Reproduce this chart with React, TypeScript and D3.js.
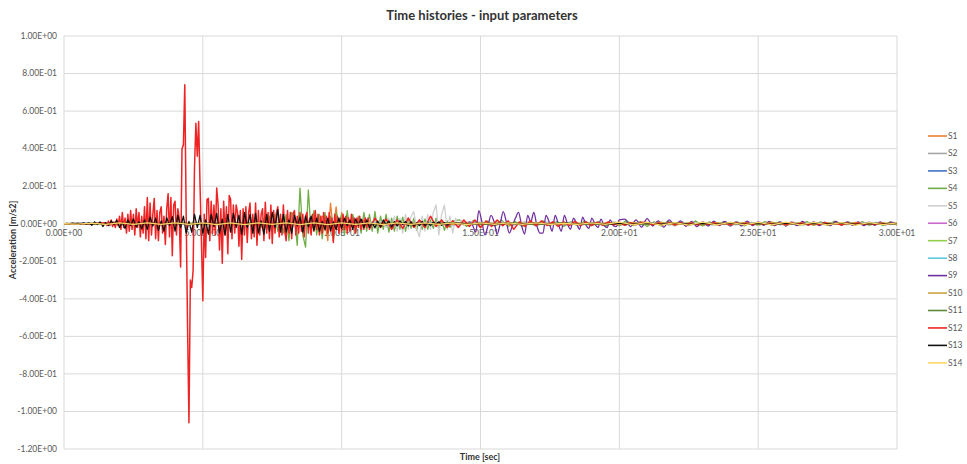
import { useEffect, useRef } from "react";
import * as d3 from "d3";

// tick values
const X_TICKS = [0, 5, 10, 15, 20, 25, 30];
const Y_TICKS = [1, 0.8, 0.6, 0.4, 0.2, 0, -0.2, -0.4, -0.6, -0.8, -1, -1.2];

// ---- time histories (values in m/s2) ----
// each segment: start time t0, step dt, values

const S12_A = [
  0.005, -0.01, 0.015, -0.01, 0.02, -0.015, 0.01, -0.02, 0.025, -0.01,
  0.04, -0.03, 0.06, -0.02, 0.03, -0.05, 0.05, -0.04, 0.07, -0.03,
  0.05, -0.06, 0.08, -0.02, 0.06, -0.07, 0.04, -0.05, 0.09, -0.08,
  0.14, -0.09, 0.11, -0.06, 0.05, 0.135, -0.08, 0.07, -0.09, 0.06,
  0.09, -0.05, 0.04, -0.11, 0.08, 0.16, -0.07, 0.14, -0.17, 0.1,
  0.12, -0.06, 0.08, 0.03, -0.23, 0.4, 0.42, 0.74, 0.05, -0.55,
  -1.06, -0.3, -0.34, -0.25, 0.3, 0.535, 0.36, 0.545, 0.2, -0.1,
  -0.41, 0.05, -0.18, 0.13, 0.135, -0.09, 0.12, -0.05, 0.1, -0.06,
  0.19, 0.1, -0.14, 0.08, -0.21, 0.12, -0.06, 0.09, -0.16, 0.15,
  0.13, -0.08, 0.1, -0.05, 0.1, 0.06, -0.12, 0.07, -0.19, 0.08,
  -0.06, 0.09, -0.1, 0.06, 0.11, -0.08, 0.05, -0.07, 0.11, -0.115,
  0.07, -0.06, 0.05, 0.08, -0.09, 0.115, -0.05, 0.06, -0.08, 0.1,
  -0.105, 0.07, -0.05, 0.06, 0.09, -0.07, 0.05, -0.06, 0.1, -0.04,
  -0.09, 0.07, -0.05, 0.06, -0.08, 0.05, 0.07, -0.06, 0.04, -0.05,
  0.06, -0.04, 0.05, -0.07, 0.04, 0.06, -0.05, 0.03, -0.06, 0.05,
  -0.04, 0.07, -0.03, 0.05, -0.06, 0.04, -0.05, 0.06, -0.03, 0.04,
  -0.05, 0.06, -0.04, 0.03, -0.1, 0.05, -0.03, 0.04, -0.05, 0.03,
  -0.04, 0.05, -0.03, 0.04, -0.05, 0.03, -0.04, 0.05, -0.02, 0.03,
  -0.05, 0.03, -0.02, 0.04, -0.03, 0.02, -0.03, 0.03, -0.02, 0.03,
];
const S12_B = [
  -0.03, 0.03, -0.02, 0.025, -0.03, 0.02, -0.025, 0.03, -0.02, 0.02,
  -0.02, 0.04, -0.015, 0.02, -0.02, 0.015, -0.02, 0.02, -0.015, 0.02,
  -0.02, 0.015, -0.015, 0.02, -0.01, 0.015, -0.03, 0.01, -0.015, 0.015,
  -0.01, 0.015, -0.01, 0.01, -0.015, 0.01, -0.01, 0.012, -0.01, 0.01,
  -0.01, 0.008, -0.008, 0.01, -0.006, 0.008, -0.008, 0.006, -0.006, 0.008,
  0.005, -0.006, 0.004, -0.005, 0.006, -0.004, 0.005, -0.005, 0.004, -0.006,
  0.004, -0.004, 0.005, -0.006, 0.003, -0.004, 0.005, -0.004, 0.004, -0.005,
  0.006, -0.004, 0.003, -0.005, 0.004, -0.004, 0.005, -0.003, 0.004, -0.005,
  0.003, -0.004, 0.005, -0.004, 0.003, -0.005, 0.004, -0.003, 0.004, -0.004,
  0.003, -0.004, 0.003, -0.003, 0.002,
];

const S13_A = [
  0, 0.002, -0.002, 0.003, -0.001, 0.002, -0.004, 0.005, -0.002, 0.006,
  -0.008, 0.01, -0.004, 0.01, -0.015, 0.006, -0.01, 0.015, -0.005, 0.018,
  -0.02, 0.008, -0.025, 0.02, -0.01, 0.025, -0.018, 0.01, -0.028, 0.02,
  -0.03, 0.035, -0.012, 0.03, -0.035, 0.015, -0.04, 0.032, -0.01, 0.038,
  -0.04, 0.045, -0.02, 0.04, -0.05, 0.012, -0.045, 0.05, -0.02, 0.045,
  -0.05, 0.02, -0.055, 0.05, -0.015, 0.055, -0.05, 0.025, -0.06, 0.05,
  -0.045, 0.055, -0.02, 0.045, -0.055, 0.06, -0.02, 0.05, -0.05, 0.055,
  -0.05, 0.015, -0.055, 0.05, -0.04, 0.06, -0.02, 0.075, -0.045, 0.05,
  -0.045, 0.02, -0.05, 0.045, -0.01, 0.035, -0.045, 0.04, -0.015, 0.04,
  -0.035, 0.03, -0.04, 0.012, -0.03, 0.03, -0.035, 0.01, -0.03, 0.03,
  -0.025, 0.03, -0.01, 0.02, -0.03, 0.025, -0.008, 0.025, -0.02, 0.02,
  -0.02, 0.008, -0.022, 0.015, -0.018, 0.02, -0.006, 0.015, -0.018, 0.012,
  -0.012, 0.015, -0.004, 0.012, -0.012, 0.01, -0.012, 0.004, -0.01, 0.012,
  -0.01, 0.008, -0.01, 0.008, -0.003, 0.01, -0.008, 0.006, -0.008, 0.006,
];
const S13_B = [
  0.006, -0.005, 0.004, -0.006, 0.005, -0.004, 0.005, -0.005, 0.004, -0.004,
  0.005, -0.004, 0.003, -0.004, 0.004, -0.003, 0.004, -0.004, 0.003, -0.003,
  0.004, -0.003, 0.003, -0.004, 0.003, -0.003, 0.003, -0.002, 0.003, -0.003,
  0.002, -0.002, 0.002,
];

const S4_PRE = [0, 0.002, -0.002, 0.003, -0.004, 0.005, -0.006];
const S4_A = [
  0.01, -0.02, 0.03, -0.03, 0.04, -0.03, 0.05, -0.04, 0.03, -0.05,
  0.05, -0.09, 0.06, 0.04, -0.115, 0.19, -0.06, -0.125, 0.18, -0.05,
  0.07, -0.06, 0.05, -0.08, 0.06, -0.05, 0.04, -0.09, 0.06, -0.04,
  0.05, -0.06, 0.07, -0.04, 0.05, -0.05, 0.04, -0.05, 0.06, -0.04,
  0.05, -0.04, 0.065, -0.05, 0.04, -0.03, 0.05, -0.045, 0.03, -0.04,
  0.04, -0.03, 0.035, -0.04, 0.03, -0.025, 0.03, -0.035, 0.02, -0.03,
  0.025, -0.03, 0.02, -0.025, 0.03, -0.02, 0.02, -0.035, 0.015, -0.02,
  0.015,
];
const S4_B = [
  0.02, -0.015, 0.018, -0.02, 0.015, -0.012, 0.02, -0.015,
  0.012, -0.015, 0.01, -0.012, 0.015, -0.01, 0.012, -0.014,
  0.01, -0.012, 0.015, -0.01, 0.012, -0.015, 0.01, -0.012,
  0.018, -0.01, 0.012, -0.015, 0.01, -0.012, 0.014, -0.01,
  0.012, -0.01, 0.015, -0.012, 0.01, -0.008, 0.012, -0.01,
  0.01, -0.012, 0.008, -0.01, 0.012, -0.008, 0.01, -0.01,
  0.008, -0.01, 0.012, -0.008, 0.01, -0.01, 0.014, -0.008,
  0.01, -0.008, 0.012, -0.01, 0.008, -0.01, 0.01, -0.006,
];

const S1_PRE = [0, 0.002, -0.002, 0.003, -0.003];
const S1_A = [
  0.01, -0.02, 0.03, 0.02, -0.05, 0.04, 0.03, -0.09, 0.11, -0.04,
  0.09, -0.05, 0.06, -0.04, 0.05, -0.03, 0.04, -0.03, 0.03, -0.02,
  0.02, -0.02, 0.015, -0.01, 0.01, -0.01, 0.005, 0,
];
const S1_B = [
  0.006, -0.008, 0.005, -0.006, 0.008, -0.005, 0.006, -0.007, 0.005, -0.006,
  0.007, -0.005, 0.006, -0.006, 0.005, -0.007, 0.006, -0.005, 0.007, -0.006,
  0.005, -0.006, 0.006, -0.005, 0.007, -0.006, 0.005, -0.005, 0.006, -0.006,
  0.005, -0.005, 0.006, -0.004, 0.005, -0.005, 0.004,
];

const S5_PRE = [0, 0.002, -0.002, 0.003, -0.003, 0.004];
const S5_A = [
  0.01, -0.02, 0.03, -0.03, 0.04, -0.04, 0.03, -0.05, 0.05, -0.03,
  0.04, 0.065, -0.03, -0.07, 0.04, -0.04, 0.05, -0.03, 0.06, 0.1,
  -0.06, 0.05, 0.1, -0.03, 0.04, -0.05, 0.03, -0.02, 0.02, -0.01,
  0.01,
];
const S5_B = [
  0.01, -0.012, 0.008, -0.01, 0.012, -0.008, 0.01, -0.01, 0.008, -0.012,
  0.01, -0.008, 0.012, -0.01, 0.008, -0.008, 0.01, -0.01, 0.012, -0.008,
  0.008, -0.01, 0.01, -0.008, 0.012, -0.01, 0.008, -0.008, 0.01, -0.01,
  0.008, -0.008, 0.01, -0.006, 0.008, -0.008, 0.006, -0.006,
];

const S9_PRE = [0, 0.002, -0.002, 0.003, -0.003, 0.004, -0.004, 0.005];
const S9_A = [
  0, 0.01, -0.01, -0.045, 0.07, 0.01, -0.06, -0.01, 0.045, 0.01,
  -0.055, 0, 0.065, 0.01, -0.05, -0.01, 0.03, 0.06, -0.01, -0.055,
  0.045, 0.01, 0.06, -0.01, -0.05, -0.05, 0.045, 0.01, -0.04, 0.045,
  0, -0.04, 0.045, 0, -0.03, 0.03, 0, -0.03, 0.035, -0.005,
  -0.025, 0.03, 0, -0.02, 0.025, -0.01, -0.02, 0.02, -0.01, -0.015,
  0.02,
];
const S9_B = [
  0.025, -0.015, 0.02, -0.018, 0.027, -0.012, 0.015, -0.018, 0.02, -0.01,
  0.015, -0.014, 0.012, -0.015, 0.01, -0.012, 0.014, -0.01, 0.012, -0.012,
  0.01, -0.012, 0.014, -0.01, 0.01, -0.008, 0.012, -0.01, 0.01, -0.012,
  0.008, -0.01, 0.012, -0.008, 0.01, -0.01, 0.008, -0.01, 0.012, -0.008,
  0.01, -0.008, 0.01, -0.01, 0.008, -0.008, 0.01, -0.006, 0.008, -0.006,
];

const S10_V = [
  0, 0.002, -0.002, 0.003, -0.003, 0.003, -0.004, 0.004, -0.003, 0.004,
  -0.004, 0.004, -0.005, 0.004, -0.004, 0.005, -0.004, 0.005, -0.005, 0.004,
  -0.004, 0.005, -0.005, 0.004, -0.005, 0.005, -0.004, 0.004, -0.005, 0.004,
  -0.004, 0.004, -0.005, 0.004, -0.004, 0.003, -0.004, 0.004, -0.003, 0.004,
  -0.006, 0.007, -0.006, 0.008, -0.007, 0.006, -0.008, 0.007, -0.006, 0.007,
  -0.006, 0.008, -0.007, 0.006, -0.007, 0.006, -0.006, 0.007, -0.005, 0.006,
  -0.005,
];
const S14_V = [
  0, -0.002, 0.003, -0.003, 0.004, -0.003, 0.004, -0.004, 0.005, -0.004,
  0.005, -0.005, 0.004, -0.005, 0.005, -0.004, 0.005, -0.005, 0.004, -0.005,
  0.005, -0.004, 0.004, -0.005, 0.005, -0.004, 0.005, -0.004, 0.004, -0.005,
  0.004, -0.004, 0.005, -0.004, 0.004, -0.004, 0.003, -0.004, 0.004, -0.003,
  0.008, -0.006, 0.007, -0.008, 0.006, -0.007, 0.008, -0.006, 0.007, -0.006,
  0.007, -0.006, 0.008, -0.006, 0.007, -0.006, 0.006, -0.007, 0.006, -0.005,
  0.005,
];
const SMALL_A = [
  0, 0.003, -0.004, 0.004, -0.005, 0.005, -0.004, 0.005, -0.005, 0.004,
  -0.005, 0.004, -0.004, 0.005, -0.004, 0.004, -0.003, 0.004, -0.004, 0.003,
  -0.004, 0.004, -0.003, 0.003, -0.004, 0.003, -0.003, 0.003, -0.002, 0.003,
  -0.002,
];
const SMALL_B = [
  0, -0.003, 0.004, -0.004, 0.005, -0.004, 0.005, -0.005, 0.004, -0.005,
  0.004, -0.004, 0.005, -0.004, 0.004, -0.003, 0.004, -0.004, 0.003, -0.004,
  0.004, -0.003, 0.003, -0.004, 0.003, -0.003, 0.003, -0.002, 0.003, -0.002,
  0.002,
];

const SERIES = [
  { name: "S1", color: "#ED7D31", segs: [[0, 2, S1_PRE], [8.8, 0.1, S1_A], [12, 0.5, S1_B]] },
  { name: "S2", color: "#A5A5A5", segs: [[0, 1, SMALL_A]] },
  { name: "S3", color: "#4472C4", segs: [[0, 1, SMALL_B]] },
  { name: "S4", color: "#70AD47", segs: [[0, 1, S4_PRE], [7, 0.1, S4_A], [14.25, 0.25, S4_B]] },
  { name: "S5", color: "#CFCFCF", segs: [[0, 2, S5_PRE], [11.5, 0.1, S5_A], [15, 0.4, S5_B]] },
  { name: "S6", color: "#CC66CC", segs: [[0, 1, SMALL_A]] },
  { name: "S7", color: "#92D050", segs: [[0, 1, SMALL_B]] },
  { name: "S8", color: "#5BC8E0", segs: [[0, 1, SMALL_A]] },
  { name: "S9", color: "#7030A0", segs: [[0, 2, S9_PRE], [14.5, 0.11, S9_A], [20.2, 0.2, S9_B]] },
  { name: "S10", color: "#C9A23A", segs: [[0, 0.5, S10_V]] },
  { name: "S11", color: "#5A8A3A", segs: [[0, 1, SMALL_B]] },
  { name: "S12", color: "#EE2424", segs: [[0, 0.5, [0, 0, 0]], [1.5, 0.05, S12_A], [11, 0.2, S12_B]] },
  { name: "S13", color: "#111111", segs: [[0, 0.1, S13_A], [14, 0.5, S13_B]] },
  { name: "S14", color: "#FFD966", segs: [[0, 0.5, S14_V]] },
];

const fmtE = (v: number) => {
  const m = v.toExponential(2).match(/^(-?\d\.\d\d)e([+-])(\d+)$/);
  if (!m) return String(v);
  return `${m[1]}E${m[2]}${m[3].padStart(2, "0")}`;
};

export default function App() {
  const svgRef = useRef<SVGSVGElement>(null);

  useEffect(() => {
    if (!svgRef.current) return;
    const W = 967, H = 464;
    const m = { left: 64, right: 897, top: 36, bottom: 449 };
    const font = "Lato, 'Open Sans', sans-serif";
    const svg = d3.select(svgRef.current);
    svg.selectAll("*").remove();
    svg.attr("width", W).attr("height", H).style("font-family", font);

    svg.append("rect").attr("width", W).attr("height", H).attr("fill", "#fff");

    const x = d3.scaleLinear().domain([0, 30]).range([m.left, m.right]);
    const y = d3.scaleLinear().domain([-1.2, 1]).range([m.bottom, m.top]);

    // grid
    svg.append("g").selectAll("line").data(Y_TICKS).join("line")
      .attr("x1", m.left).attr("x2", m.right)
      .attr("y1", (d) => y(d)).attr("y2", (d) => y(d))
      .attr("stroke", "#d9d9d9").attr("stroke-width", 1);
    svg.append("g").selectAll("line").data(X_TICKS).join("line")
      .attr("x1", (d) => x(d)).attr("x2", (d) => x(d))
      .attr("y1", m.top).attr("y2", m.bottom)
      .attr("stroke", "#d9d9d9").attr("stroke-width", 1);

    // y tick labels
    svg.append("g").selectAll("text").data(Y_TICKS).join("text")
      .attr("x", 57).attr("y", (d) => y(d)).attr("dy", "0.33em")
      .attr("text-anchor", "end").attr("font-size", 8.5).attr("fill", "#595959")
      .text((d) => fmtE(d));

    // x tick labels (sit under the zero line)
    svg.append("g").selectAll("text").data(X_TICKS).join("text")
      .attr("x", (d) => x(d)).attr("y", y(0) + 12)
      .attr("text-anchor", "middle").attr("font-size", 8.5).attr("fill", "#595959")
      .text((d) => fmtE(d));

    // lines
    svg.append("clipPath").attr("id", "plotClip").append("rect")
      .attr("x", m.left).attr("y", m.top)
      .attr("width", m.right - m.left).attr("height", m.bottom - m.top);

    const line = d3.line<[number, number]>().x((d) => x(d[0])).y((d) => y(d[1]));
    const smooth = d3.line<[number, number]>().x((d) => x(d[0])).y((d) => y(d[1])).curve(d3.curveMonotoneX);
    const lines = svg.append("g").attr("clip-path", "url(#plotClip)");

    SERIES.forEach((s) => {
      const pts: [number, number][] = [];
      s.segs.forEach(([t0, dt, vals]: any) => {
        (vals as number[]).forEach((v, i) => pts.push([t0 + i * dt, v]));
      });
      lines.append("path").datum(pts)
        .attr("fill", "none").attr("stroke", s.color)
        .attr("stroke-width", s.name === "S12" ? 1.5 : 1.3)
        .attr("stroke-linejoin", "round")
        .attr("d", s.name === "S9" ? smooth : line);
    });

    // title
    svg.append("text").attr("x", 482).attr("y", 20)
      .attr("text-anchor", "middle").attr("font-size", 13).attr("font-weight", 700)
      .attr("fill", "#333").text("Time histories - input parameters");

    // axis titles
    svg.append("text").attr("x", 480).attr("y", 460)
      .attr("text-anchor", "middle").attr("font-size", 9).attr("font-weight", 700)
      .attr("fill", "#333").text("Time [sec]");
    svg.append("text").attr("transform", "rotate(-90)")
      .attr("x", -240).attr("y", 16)
      .attr("text-anchor", "middle").attr("font-size", 9).attr("font-weight", 700)
      .attr("fill", "#333").text("Acceleration [m/s2]");

    // legend
    const lg = svg.append("g").selectAll("g").data(SERIES).join("g")
      .attr("transform", (_d, i) => `translate(928,${136 + i * 17.45})`);
    lg.append("line").attr("x1", 0).attr("x2", 19)
      .attr("stroke", (d) => d.color).attr("stroke-width", 1.6);
    lg.append("text").attr("x", 20).attr("dy", "0.33em")
      .attr("font-size", 8.5).attr("fill", "#595959").text((d) => d.name);
  }, []);

  return (
    <div style={{ position: "absolute", left: 0, top: 0 }}>
      <svg ref={svgRef} style={{ display: "block" }} />
    </div>
  );
}
